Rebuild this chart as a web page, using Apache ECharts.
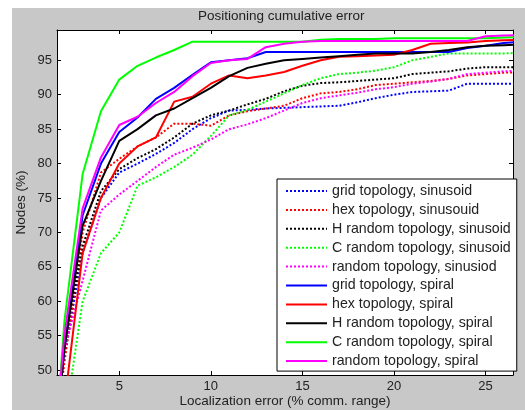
<!DOCTYPE html>
<html>
<head>
<meta charset="utf-8">
<script src="https://cdn.jsdelivr.net/npm/echarts@6/dist/echarts.min.js"></script>
<style>
  html, body { margin: 0; padding: 0; background: #ffffff; }
  #wrap { position: relative; width: 525px; height: 410px; background: #ffffff; }
  #chart { position: absolute; left: 12px; top: 8px; width: 513px; height: 402px; background: #c8c8c8; }
</style>
</head>
<body>
<div id="wrap"><div id="chart"></div></div>
<script>
// localization error (% comm. range)
const xValues = [1, 2, 3, 4, 5, 6, 7, 8, 9, 10, 11, 12, 13, 14, 15, 16, 17, 18, 19, 20, 21, 22, 23, 24, 25, 26, 27];

// sinusoid trajectories (dotted)
const gridSinusoid   = [30, 52, 67, 75, 78.7, 80, 81.4, 83, 85, 86.6, 87.7, 87.8, 88, 88.1, 88.2, 88.3, 88.4, 88.9, 89.5, 90, 90.4, 90.5, 90.6, 91.6, 91.6, 91.6, 91.6];
const hexSinusoid    = [30, 51, 70, 78.7, 80.7, 82.5, 83.8, 85.8, 85.8, 85.5, 87, 87.6, 88, 88.4, 89.5, 90.2, 90.4, 90.8, 91.4, 91.6, 91.8, 92, 92.3, 92.8, 93, 93.2, 93.3];
const hRandSinusoid  = [30, 54, 68, 76, 79.2, 80.8, 82.1, 83.8, 85.8, 87, 87.7, 88.6, 89.4, 90.5, 91.3, 91.7, 91.8, 92, 92.2, 92.4, 93, 93.2, 93.4, 93.8, 94, 94, 94];
const cRandSinusoid  = [20, 42, 60, 67, 70, 76.8, 78, 79.5, 81.3, 84, 87, 87.8, 89, 90.2, 91.4, 92.4, 93, 93.2, 93.5, 94, 95, 95.5, 96, 96, 96, 96, 96.1];
const randSinusoid   = [30, 53, 63, 73.2, 75.5, 77.5, 79.5, 81.3, 82.3, 83.5, 85, 85.7, 86.6, 87.7, 88.8, 89.5, 89.9, 90.3, 90.8, 91.1, 91.6, 91.9, 92.3, 93, 93.2, 93.4, 93.5];

// spiral trajectories (solid)
const gridSpiral  = [25, 53, 72.5, 80, 84.6, 86.7, 89.4, 91, 92.9, 94.7, 95, 95.3, 96.2, 96.2, 96.2, 96.2, 96.2, 96.2, 96.2, 96.2, 96.2, 96.2, 96.2, 96.8, 97.1, 97.5, 97.7];
const hexSpiral   = [25, 45, 67, 75, 80, 82.5, 83.8, 89, 89.7, 91.6, 92.8, 92.4, 92.8, 93.3, 94.2, 95, 95.5, 95.6, 95.7, 95.8, 96.5, 97.4, 97.5, 97.6, 97.8, 97.9, 98];
const hRandSpiral = [25, 53, 71, 77.5, 83.3, 85, 87, 88, 89.5, 91, 92.7, 93.9, 94.5, 95, 95.2, 95.4, 95.6, 95.8, 96, 96, 96, 96.2, 96.5, 96.9, 97.1, 97.2, 97.3];
const cRandSpiral = [20, 57, 78.5, 87.6, 92.2, 94.2, 95.4, 96.5, 97.7, 97.7, 97.7, 97.7, 97.7, 97.7, 97.7, 98, 98.1, 98.1, 98.1, 98.2, 98.2, 98.2, 98.2, 98.2, 98.2, 98.3, 98.4];
const randSpiral  = [25, 55, 73.5, 80.9, 85.6, 86.8, 88.8, 90.4, 92.7, 94.6, 95, 95.2, 96.9, 97.4, 97.7, 97.8, 97.8, 97.8, 97.8, 97.8, 97.8, 97.8, 97.8, 97.8, 98.5, 98.6, 98.7];

const xTicks = [5, 10, 15, 20, 25];
const yTicks = [50, 55, 60, 65, 70, 75, 80, 85, 90, 95];

const seriesDefs = [
  { name: "grid topology, sinusoid", data: gridSinusoid, color: "#0000ff", type: "dotted" },
  { name: "hex topology, sinusouid", data: hexSinusoid, color: "#ff0000", type: "dotted" },
  { name: "H random topology, sinusoid", data: hRandSinusoid, color: "#000000", type: "dotted" },
  { name: "C random topology, sinusoid", data: cRandSinusoid, color: "#00ff00", type: "dotted" },
  { name: "random topology, sinusiod", data: randSinusoid, color: "#ff00ff", type: "dotted" },
  { name: "grid topology, spiral", data: gridSpiral, color: "#0000ff", type: "solid" },
  { name: "hex topology, spiral", data: hexSpiral, color: "#ff0000", type: "solid" },
  { name: "H random topology, spiral", data: hRandSpiral, color: "#000000", type: "solid" },
  { name: "C random topology, spiral", data: cRandSpiral, color: "#00ff00", type: "solid" },
  { name: "random topology, spiral", data: randSpiral, color: "#ff00ff", type: "solid" },
];

const font = "'Liberation Sans', Arial, sans-serif";
const XMIN = 1.6, XMAX = 26.5, YMIN = 49.3, YMAX = 99.4;

const chart = echarts.init(document.getElementById("chart"));

const baseAxis = {
  type: "value",
  axisLine: { show: true, onZero: false, lineStyle: { color: "#000", width: 1 } },
  splitLine: { show: false },
};
const tickStyle = (vals) => ({ show: true, inside: true, length: 4, lineStyle: { color: "#000" }, customValues: vals });

const option = {
  backgroundColor: "#c8c8c8",
  animation: false,
  title: {
    text: "Positioning cumulative error",
    left: 186,
    top: 1,
    padding: 0,
    textStyle: { fontFamily: font, fontSize: 13.5, fontWeight: "normal", color: "#222" },
  },
  grid: {
    left: 45, top: 22, right: 12, bottom: 35,
    outerBoundsMode: "none",
    containLabel: false,
    show: true, backgroundColor: "#ffffff", borderWidth: 0,
  },
  legend: {
    orient: "vertical",
    left: 265,
    top: 171,
    padding: [5, 6, 3, 8],
    itemWidth: 41,
    itemHeight: 14,
    itemGap: 4.9,
    backgroundColor: "#ffffff",
    borderColor: "#000",
    borderWidth: 1,
    borderRadius: 0,
    itemStyle: { opacity: 0 },
    textStyle: { fontFamily: font, fontSize: 14.2, color: "#222", lineHeight: 14 },
    data: seriesDefs.map((s) => s.name),
  },
  xAxis: [
    Object.assign({}, baseAxis, {
      min: XMIN, max: XMAX,
      name: "Localization error (% comm. range)",
      nameLocation: "middle",
      nameGap: 19,
      nameMoveOverlap: false,
      nameTextStyle: { fontFamily: font, fontSize: 13.5, color: "#222" },
      axisTick: tickStyle(xTicks),
      axisLabel: { fontFamily: font, fontSize: 13, color: "#222", margin: 5, customValues: xTicks },
    }),
    Object.assign({}, baseAxis, {
      min: XMIN, max: XMAX, position: "top",
      axisTick: tickStyle(xTicks),
      axisLabel: { show: false },
    }),
  ],
  yAxis: [
    Object.assign({}, baseAxis, {
      min: YMIN, max: YMAX,
      name: "Nodes (%)",
      nameLocation: "middle",
      nameGap: 29,
      nameMoveOverlap: false,
      nameTextStyle: { fontFamily: font, fontSize: 13.5, color: "#222" },
      axisTick: tickStyle(yTicks),
      axisLabel: { fontFamily: font, fontSize: 13, color: "#222", margin: 5, customValues: yTicks },
    }),
    Object.assign({}, baseAxis, {
      min: YMIN, max: YMAX, position: "right",
      axisTick: tickStyle(yTicks),
      axisLabel: { show: false },
    }),
  ],
  series: seriesDefs.map((s) => ({
    name: s.name,
    type: "line",
    xAxisIndex: 0,
    yAxisIndex: 0,
    symbol: "none",
    clip: true,
    data: xValues.map((x, i) => [x, s.data[i]]),
    lineStyle: { color: s.color, width: 2, type: s.type },
    itemStyle: { color: s.color },
  })),
};

chart.setOption(option);
</script>
</body>
</html>
